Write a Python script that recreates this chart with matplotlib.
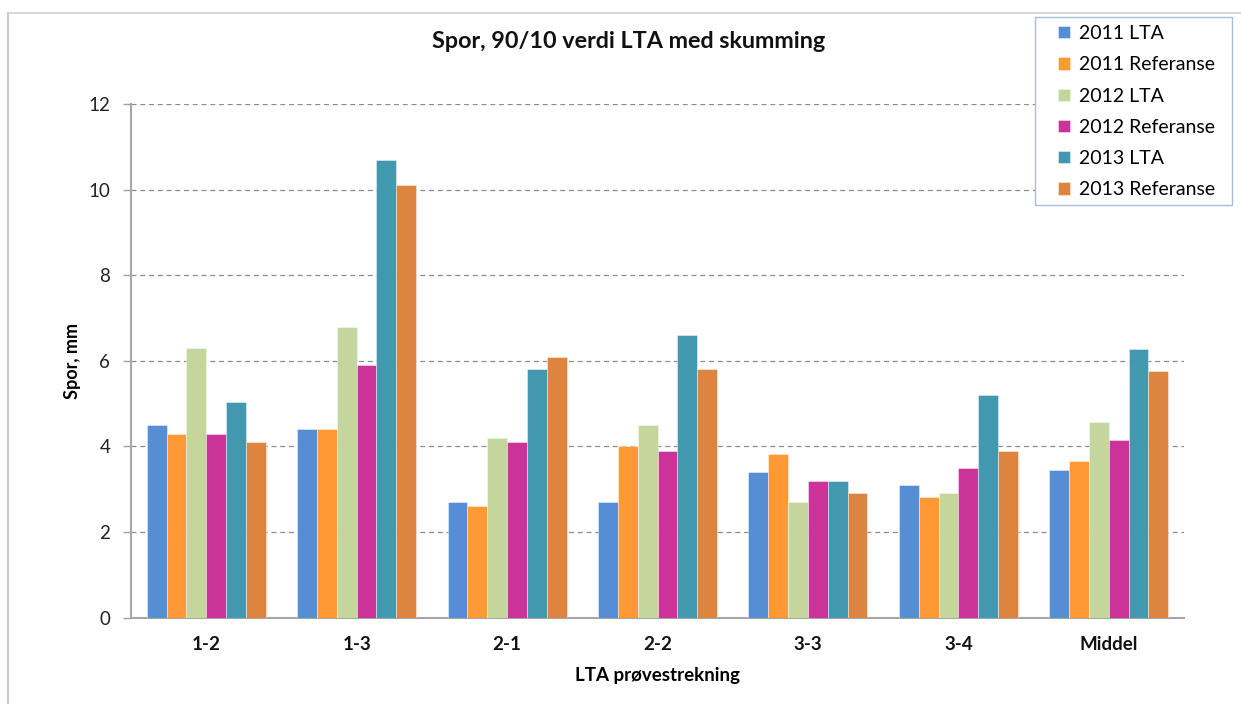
import matplotlib
matplotlib.use("Agg")
import matplotlib.pyplot as plt
from matplotlib.lines import Line2D
from matplotlib.patches import Rectangle
import numpy as np

categories = ["1-2", "1-3", "2-1", "2-2", "3-3", "3-4", "Middel"]
series_names = ["2011 LTA", "2011 Referanse", "2012 LTA", "2012 Referanse",
                "2013 LTA", "2013 Referanse"]
lta_2011 = [4.5, 4.4, 2.7, 2.7, 3.4, 3.1, 3.46]
ref_2011 = [4.3, 4.4, 2.6, 4.0, 3.82, 2.81, 3.67]
lta_2012 = [6.3, 6.8, 4.2, 4.5, 2.7, 2.91, 4.58]
ref_2012 = [4.3, 5.9, 4.1, 3.9, 3.19, 3.49, 4.14]
lta_2013 = [5.05, 10.7, 5.8, 6.6, 3.19, 5.2, 6.28]
ref_2013 = [4.1, 10.1, 6.1, 5.8, 2.91, 3.9, 5.76]
series_values = [lta_2011, ref_2011, lta_2012, ref_2012, lta_2013, ref_2013]
colors = ["#558ED5", "#FF9933", "#C3D69B", "#CC3399", "#4198AF", "#DD8440"]
y_ticks = [0, 2, 4, 6, 8, 10, 12]

font = ["Lato", "DejaVu Sans"]
plt.rcParams["font.family"] = font

W, H = 1241, 704
fig = plt.figure(figsize=(W / 100, H / 100), dpi=100)
ax = fig.add_axes([131 / W, 1 - 617.7 / H, (1184 - 131) / W, (617.7 - 104) / H])

x = np.arange(len(categories))
bw = 0.132
n = len(series_values)
for i, (name, vals, c) in enumerate(zip(series_names, series_values, colors)):
    offs = (i - (n - 1) / 2) * bw
    ax.bar(x + offs, vals, width=bw, color=c, label=name,
           edgecolor=(1, 1, 1, 0.5), linewidth=0.6, zorder=3)

ax.set_xlim(-0.5, len(categories) - 0.5)
ax.set_ylim(0, 12)
ax.set_yticks(y_ticks)
ax.set_yticklabels([str(t) for t in y_ticks], fontsize=13.5, color="#222222")
ax.set_xticks(x)
ax.set_xticklabels(categories, fontsize=13.5, fontweight="bold", color="#111111")
ax.tick_params(axis="x", length=0, pad=13)
ax.tick_params(axis="y", length=6, color="#a0a0a0", width=1, pad=9)

ax.yaxis.grid(True, linestyle=(0, (4, 3)), color="#8c8c8c", linewidth=0.9, zorder=0)
ax.set_axisbelow(True)
for side in ("top", "right"):
    ax.spines[side].set_visible(False)
for side in ("left", "bottom"):
    ax.spines[side].set_color("#a6a6a6")
    ax.spines[side].set_linewidth(1.5)

ax.set_ylabel("Spor, mm", fontsize=13, fontweight="bold", labelpad=5)
ax.set_xlabel("LTA prøvestrekning", fontsize=13.5, fontweight="bold", labelpad=10)

fig.text(629 / W, 1 - 42 / H, "Spor, 90/10 verdi LTA med skumming",
         ha="center", va="center", fontsize=16.8, fontweight="bold", color="#111111")

# legend box with its own frame
fig.add_artist(Rectangle((1035 / W, 1 - 205 / H), (1232 - 1035) / W, (205 - 17) / H,
                         transform=fig.transFigure, facecolor="white",
                         edgecolor="#a9bcd8", linewidth=1.0, zorder=4))
leg = fig.legend(loc="upper left", bbox_to_anchor=(1058 / W, 1 - 25 / H),
                 fontsize=14, frameon=False,
                 handlelength=0.6, handleheight=0.6, handletextpad=0.5,
                 labelspacing=0.735, borderpad=0.0, borderaxespad=0)
leg.set_zorder(5)

# chart area border
fig.add_artist(Line2D([8 / W, 8 / W], [0, 1 - 13 / H], transform=fig.transFigure,
                      color="#bfbfbf", linewidth=1.2))
fig.add_artist(Line2D([8 / W, 1], [1 - 13 / H, 1 - 13 / H], transform=fig.transFigure,
                      color="#d0d0d0", linewidth=1.2))

fig.savefig("out.png", dpi=100)
